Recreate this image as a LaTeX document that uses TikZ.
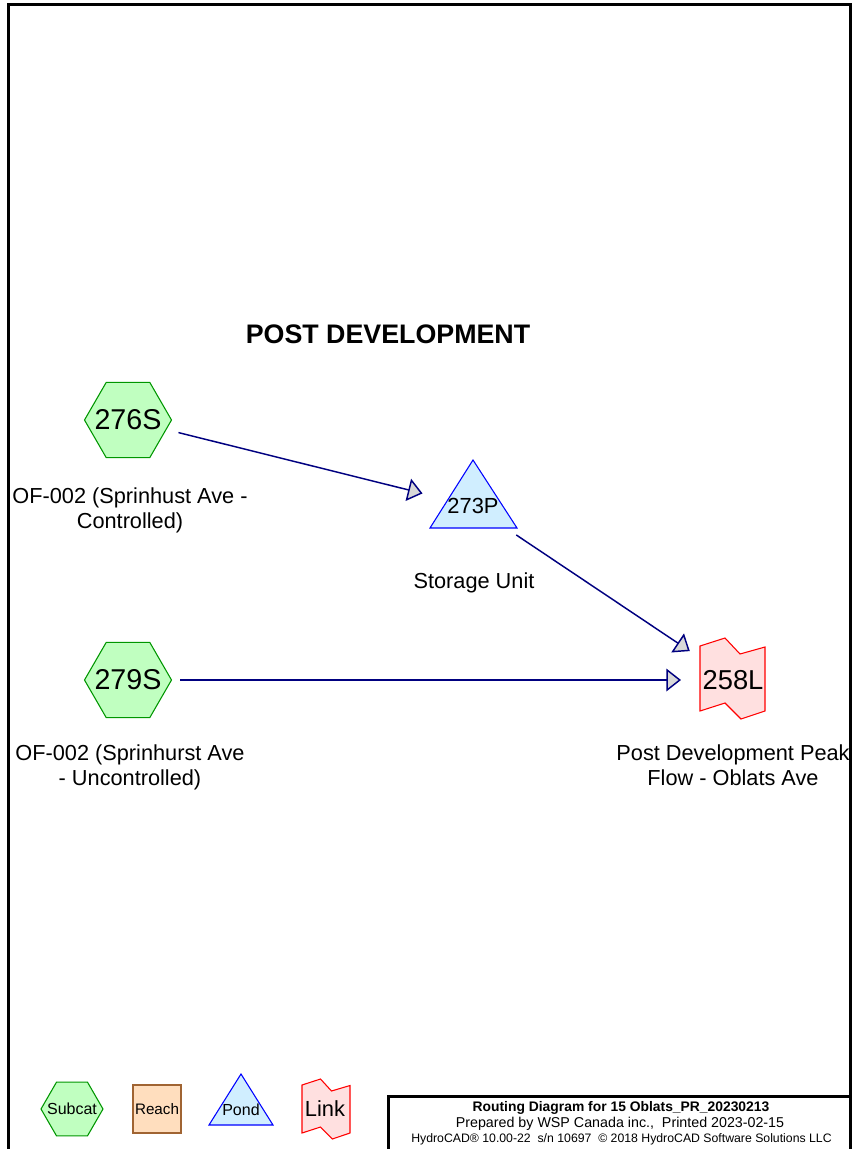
\documentclass[tikz,border=0pt]{standalone}
\usepackage{fontspec}
\setmainfont{Liberation Sans}
\usetikzlibrary{arrows.meta}
\definecolor{subfill}{RGB}{192,255,192}
\definecolor{subline}{RGB}{0,150,0}
\definecolor{pondfill}{RGB}{208,238,255}
\definecolor{pondline}{RGB}{0,0,255}
\definecolor{linkfill}{RGB}{255,224,224}
\definecolor{linkline}{RGB}{255,0,0}
\definecolor{reachfill}{RGB}{255,222,190}
\definecolor{reachline}{RGB}{160,100,50}
\definecolor{flowline}{RGB}{0,0,128}
\definecolor{tipfill}{RGB}{216,216,216}
\newcommand{\fsz}[1]{\fontsize{#1}{1.2\dimexpr #1pt\relax}\selectfont}
% hexagon centred at (#1,#2) with circumradius #3 (pixel units)
\newcommand{\hexshape}[3]{%
  \draw[subshape] (#1,#2) ++(-#3,0) -- ++(0.5*#3,-0.866*#3) -- ++(#3,0)
    -- ++(0.5*#3,0.866*#3) -- ++(-0.5*#3,0.866*#3) -- ++(-#3,0) -- cycle;}
\begin{document}
\begin{tikzpicture}[x=0.75pt,y=-0.75pt,
  txt/.style={inner sep=0pt, outer sep=0pt, anchor=center, align=center},
  lbl/.style={inner sep=0pt, outer sep=0pt, anchor=base, align=center, font=\fontsize{16.3pt}{18.75pt}\selectfont},
  subshape/.style={draw=subline, fill=subfill, line width=0.8pt, line join=miter},
  pondshape/.style={draw=pondline, fill=pondfill, line width=0.8pt, line join=miter},
  linkshape/.style={draw=linkline, fill=linkfill, line width=0.8pt, line join=miter},
  reachshape/.style={draw=reachline, fill=reachfill, line width=0.8pt},
  flow/.style={draw=flowline, line width=1.1pt, shorten <=39pt, shorten >=39pt,
    -{Triangle[length=11pt,width=17pt,fill=tipfill,line join=miter]}},
  frame/.style={line width=2.25pt, line join=miter}
]
\useasboundingbox (0,0) rectangle (853,1149);
% outer frame
\draw[frame] (8,1165) -- (8,5) -- (850,5) -- (850,1165);
% title
\node[txt, font=\bfseries\fsz{20.1}] (title) at (388,334) {POST DEVELOPMENT};

% subcatchments
\hexshape{128}{420}{43.5}
\node[txt, font=\fsz{21.5}] (n276) at (128,420) {276S};
\hexshape{128}{680}{43.5}
\node[txt, font=\fsz{21.5}] (n279) at (128,680) {279S};
\node[lbl] (l276) at (130,528) {OF-002 (Sprinhust Ave -\\Controlled)};
\node[lbl] (l279) at (130,785) {OF-002 (Sprinhurst Ave\\- Uncontrolled)};

% pond
\draw[pondshape] (473,460) -- (517,528) -- (430,528) -- cycle;
\node[txt, font=\fsz{16.4}] (p273) at (473,506) {273P};
\node[lbl] (lp273) at (474,588) {Storage Unit};

% link
\draw[linkshape] (700,646) -- (725,638) -- (740,654) -- (765,647) -- (765,711) -- (741,719) -- (725,703) -- (700,711) -- cycle;
\node[txt, font=\fsz{20.5}] (k258) at (733,680) {258L};
\node[lbl] (lk258) at (733,785) {Post Development Peak\\Flow - Oblats Ave};

% connectors
\draw[flow] (n276.center) -- (p273.center);
\draw[flow] (p273.center) -- (k258.center);
\draw[flow] (n279.center) -- (k258.center);

% legend
\hexshape{72}{1109}{31}
\node[txt, font=\fsz{12}] (legsub) at (72,1109) {Subcat};
\draw[reachshape] (133,1085) rectangle (181,1133);
\node[txt, font=\fsz{11.4}] (legreach) at (157,1109) {Reach};
\draw[pondshape] (241,1074) -- (273,1125) -- (209,1125) -- cycle;
\node[txt, font=\fsz{12}] (legpond) at (241,1110) {Pond};
\begin{scope}[shift={(302,1079)}]
\draw[linkshape] (0,6) -- (18.5,0) -- (29.5,12) -- (48,6.5) -- (48,54) -- (30.3,60) -- (18.5,48) -- (0,54) -- cycle;
\end{scope}
\node[txt, font=\fsz{16.4}] (leglink) at (325,1109) {Link};

% title block
\draw[frame] (388,1165) -- (388,1096) -- (850,1096);
\node[inner sep=0pt, anchor=base, font=\bfseries\fsz{10.4}] (tb1) at (621,1111) {Routing Diagram for 15 Oblats\_PR\_20230213};
\node[inner sep=0pt, anchor=base, font=\fsz{10.7}] (tb2) at (620,1127) {Prepared by WSP Canada inc.,\ \ Printed 2023-02-15};
\node[inner sep=0pt, anchor=base, font=\fsz{9.2}] (tb3) at (621.5,1142.5) {HydroCAD® 10.00-22\ \ s/n 10697\ \ © 2018 HydroCAD Software Solutions LLC};
\end{tikzpicture}
\end{document}
